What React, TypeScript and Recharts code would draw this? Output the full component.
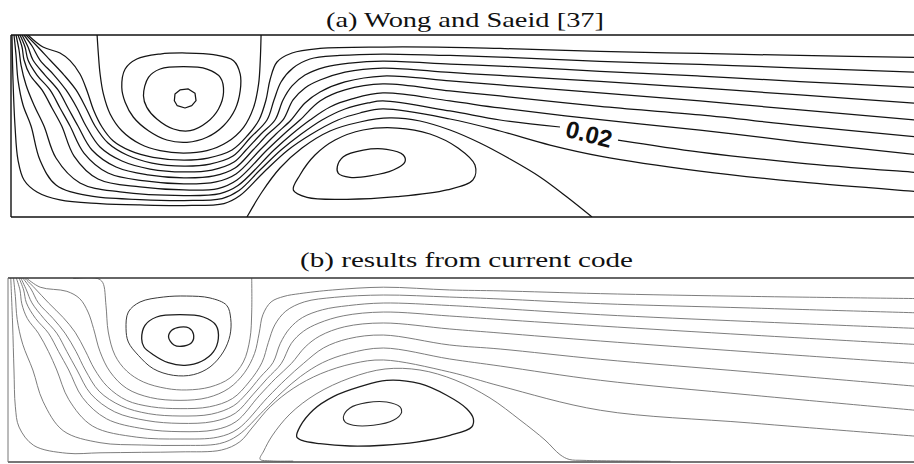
import React from 'react';
import { LineChart, Line, XAxis, YAxis, ReferenceDot } from 'recharts';

// Streamfunction contours in a 10 x 2 channel, x along the channel, y across it.
// Each array is one contour line given as [x, y] pairs.

// ---------- (a) Wong and Saeid [37] ----------
const A_SEPARATRIX = [[0.945,2.0],[0.959,1.791],[0.978,1.571],[1.014,1.352],[1.088,1.132],[1.216,0.948],[1.418,0.802],[1.637,0.729],[1.893,0.703],[2.151,0.729],[2.370,0.821],[2.553,0.986],[2.663,1.205],[2.718,1.462],[2.736,1.718],[2.745,2.0]];
const A_UPPER_OUTER = [[1.216,1.425],[1.253,1.626],[1.381,1.736],[1.637,1.791],[1.931,1.802],[2.223,1.784],[2.443,1.718],[2.516,1.571],[2.516,1.388],[2.462,1.187],[2.333,1.003],[2.151,0.876],[1.931,0.821],[1.711,0.846],[1.509,0.948],[1.344,1.096],[1.253,1.260]];
const A_UPPER_MID = [[1.454,1.333],[1.509,1.535],[1.637,1.626],[1.893,1.652],[2.151,1.626],[2.297,1.535],[2.333,1.370],[2.278,1.187],[2.151,1.041],[1.967,0.948],[1.784,0.967],[1.601,1.077],[1.491,1.205]];
const A_UPPER_CORE = [[1.800,1.352],[1.855,1.396],[1.946,1.407],[2.020,1.359],[2.031,1.278],[1.984,1.223],[1.910,1.198],[1.825,1.223],[1.793,1.278]];
const A_LOWER_OUTER = [[3.099,0.297],[3.172,0.462],[3.337,0.681],[3.557,0.846],[3.864,0.956],[4.237,0.978],[4.599,0.912],[4.907,0.758],[5.093,0.571],[5.071,0.407],[4.786,0.297],[4.237,0.223],[3.688,0.195],[3.249,0.216]];
const A_LOWER_CORE = [[3.582,0.553],[3.648,0.663],[3.867,0.736],[4.124,0.744],[4.306,0.681],[4.325,0.608],[4.197,0.516],[3.941,0.451],[3.721,0.436],[3.593,0.480]];
const A_ARCH = [[2.590,0],[2.755,0.275],[2.953,0.538],[3.194,0.758],[3.502,0.945],[3.831,1.044],[4.160,1.088],[4.490,1.055],[4.819,0.956],[5.148,0.813],[5.478,0.637],[5.807,0.440],[6.103,0.220],[6.378,0]];
const A_FAN_1 = [[0.187,2.0],[0.351,1.868],[0.538,1.802],[0.648,1.718],[0.757,1.571],[0.834,1.388],[0.906,1.176],[0.999,0.989],[1.120,0.838],[1.306,0.729],[1.559,0.656],[1.899,0.626],[2.162,0.648],[2.426,0.736],[2.601,0.901],[2.722,1.066],[2.799,1.286],[2.843,1.505],[2.920,1.703],[3.085,1.802],[3.392,1.852],[4.083,1.868],[4.819,1.865],[5.368,1.852],[6.465,1.821],[7.563,1.797],[8.661,1.775],[10,1.753]];
const A_FAN_2 = [[0.165,2.0],[0.274,1.890],[0.428,1.725],[0.582,1.560],[0.714,1.396],[0.823,1.198],[0.922,1.0],[1.065,0.813],[1.273,0.681],[1.548,0.593],[1.899,0.560],[2.184,0.582],[2.437,0.670],[2.624,0.868],[2.810,1.066],[2.887,1.286],[2.964,1.484],[3.096,1.637],[3.282,1.736],[3.611,1.775],[4.083,1.791],[4.819,1.775],[5.368,1.758],[6.465,1.711],[7.563,1.676],[8.661,1.637],[10,1.590]];
const A_FAN_3 = [[0.143,2.0],[0.231,1.879],[0.318,1.725],[0.472,1.560],[0.604,1.396],[0.724,1.198],[0.823,1.0],[0.977,0.769],[1.218,0.615],[1.526,0.527],[1.899,0.495],[2.206,0.516],[2.448,0.604],[2.580,0.736],[2.744,0.912],[2.898,1.066],[2.986,1.286],[3.085,1.440],[3.227,1.560],[3.447,1.648],[3.721,1.692],[4.083,1.714],[4.819,1.681],[5.368,1.659],[6.465,1.601],[7.563,1.549],[8.661,1.489],[10,1.420]];
const A_FAN_4 = [[0.121,2.0],[0.187,1.868],[0.241,1.725],[0.373,1.560],[0.516,1.396],[0.626,1.198],[0.735,1.0],[0.889,0.736],[1.153,0.549],[1.504,0.462],[1.899,0.429],[2.228,0.451],[2.459,0.538],[2.656,0.736],[2.821,0.912],[2.986,1.066],[3.096,1.286],[3.227,1.418],[3.392,1.505],[3.666,1.593],[4.083,1.637],[4.819,1.588],[5.368,1.555],[6.465,1.491],[7.563,1.418],[8.661,1.341],[10,1.245]];
const A_FAN_5 = [[0.099,2.0],[0.154,1.868],[0.187,1.725],[0.285,1.560],[0.428,1.396],[0.538,1.198],[0.648,1.0],[0.801,0.703],[1.065,0.484],[1.471,0.396],[1.899,0.363],[2.250,0.385],[2.470,0.473],[2.733,0.736],[2.909,0.912],[3.074,1.066],[3.227,1.253],[3.392,1.374],[3.666,1.484],[4.083,1.549],[4.819,1.495],[5.368,1.451],[6.465,1.363],[7.563,1.275],[8.661,1.176],[10,1.060]];
const A_FAN_6 = [[0.077,2.0],[0.121,1.868],[0.143,1.725],[0.209,1.560],[0.340,1.396],[0.450,1.198],[0.557,1.0],[0.692,0.670],[0.955,0.418],[1.416,0.330],[1.899,0.297],[2.272,0.313],[2.481,0.407],[2.810,0.736],[2.997,0.912],[3.172,1.066],[3.392,1.275],[3.666,1.396],[4.083,1.462],[4.819,1.385],[5.368,1.330],[6.465,1.216],[7.563,1.121],[8.661,1.005],[10,0.875]];
const A_FAN_7 = [[0.055,2.0],[0.088,1.835],[0.110,1.670],[0.165,1.451],[0.252,1.231],[0.362,1.0],[0.494,0.648],[0.757,0.374],[1.196,0.275],[1.899,0.236],[2.294,0.258],[2.492,0.346],[2.887,0.736],[3.085,0.912],[3.282,1.066],[3.502,1.209],[3.743,1.297],[4.083,1.363],[4.819,1.275],[5.368,1.198],[6.465,1.069],[7.563,0.956],[8.661,0.824],[10,0.680]];
// contour 0.02 is broken where its label sits
const A_FAN_8_LEFT = [[0.033,2.0],[0.055,1.780],[0.077,1.505],[0.132,1.231],[0.220,1.0],[0.318,0.626],[0.494,0.352],[0.867,0.231],[1.416,0.192],[1.899,0.181],[2.316,0.203],[2.503,0.291],[2.733,0.516],[2.964,0.736],[3.172,0.901],[3.414,1.066],[3.666,1.187],[3.919,1.253],[4.083,1.275],[4.819,1.165],[5.368,1.066],[6.026,0.989]];
const A_FAN_8_RIGHT = [[6.663,0.846],[7.563,0.714],[8.661,0.593],[9.912,0.491],[10,0.484]];
const A_FAN_9 = [[0.011,2.0],[0.022,1.505],[0.044,1.0],[0.077,0.626],[0.143,0.407],[0.285,0.275],[0.538,0.187],[0.977,0.148],[1.416,0.132],[1.899,0.126],[2.338,0.148],[2.514,0.236],[2.777,0.495],[3.041,0.736],[3.282,0.901],[3.589,1.066],[3.831,1.143],[4.083,1.187],[4.819,1.077],[5.368,0.945],[5.917,0.791],[6.465,0.670],[7.563,0.505],[8.661,0.385],[9.912,0.282],[10,0.275]];
const A_LABEL_VALUE = '0.02';
const A_LABEL_AT = [6.345, 0.912];

// ---------- (b) results from current code ----------
const B_SEPARATRIX = [[0.71,1.995],[0.97,1.995],[1.03,1.95],[1.065,1.703],[1.090,1.413],[1.163,1.160],[1.290,0.989],[1.471,0.870],[1.725,0.799],[1.942,0.783],[2.196,0.815],[2.413,0.913],[2.558,1.087],[2.630,1.340],[2.649,1.630],[2.649,2.0]];
const B_UPPER_OUTER = [[1.283,1.449],[1.308,1.630],[1.435,1.739],[1.688,1.793],[1.942,1.804],[2.196,1.783],[2.377,1.703],[2.421,1.558],[2.413,1.377],[2.340,1.196],[2.196,1.033],[2.014,0.949],[1.797,0.942],[1.579,1.014],[1.416,1.160],[1.308,1.304]];
const B_UPPER_MID = [[1.453,1.340],[1.489,1.486],[1.616,1.576],[1.870,1.601],[2.123,1.576],[2.261,1.486],[2.286,1.340],[2.232,1.196],[2.105,1.095],[1.924,1.051],[1.742,1.079],[1.579,1.166],[1.478,1.250]];
const B_UPPER_CORE = [[1.745,1.359],[1.783,1.435],[1.870,1.467],[1.967,1.457],[2.016,1.391],[2.000,1.304],[1.913,1.261],[1.804,1.272]];
const B_LOWER_OUTER = [[3.138,0.275],[3.174,0.384],[3.318,0.565],[3.536,0.710],[3.826,0.818],[4.116,0.888],[4.478,0.851],[4.768,0.725],[4.986,0.579],[5.058,0.471],[5.040,0.380],[4.804,0.290],[4.442,0.217],[4.079,0.182],[3.717,0.174],[3.391,0.199],[3.196,0.234]];
const B_LOWER_CORE = [[3.645,0.489],[3.717,0.587],[3.899,0.645],[4.116,0.652],[4.261,0.598],[4.279,0.543],[4.188,0.453],[3.971,0.399],[3.753,0.399],[3.663,0.435]];
const B_ARCH = [[3.10,0.010],[2.86,0.012],[2.74,0.030],[2.78,0.120],[2.870,0.283],[3.065,0.522],[3.348,0.739],[3.717,0.913],[4.098,1.011],[4.478,1.000],[4.859,0.891],[5.239,0.696],[5.565,0.457],[5.837,0.239],[6.000,0.080],[6.100,0.028],[6.250,0.018],[6.600,0.012],[7.200,0.008]];
const B_FAN_1 = [[0.20,2.0],[0.35,1.90],[0.64,1.855],[0.78,1.775],[0.87,1.63],[0.93,1.45],[1.0,1.20],[1.11,0.98],[1.29,0.80],[1.55,0.70],[1.87,0.67],[2.17,0.70],[2.40,0.80],[2.57,0.97],[2.68,1.18],[2.73,1.40],[2.77,1.60],[2.86,1.74],[3.0,1.80],[3.17,1.83],[3.53,1.87],[4.08,1.90],[4.80,1.87],[5.35,1.86],[6.44,1.83],[8.07,1.80],[10,1.775]];
const B_FAN_2 = [[0.18,2.0],[0.29,1.89],[0.44,1.73],[0.60,1.57],[0.73,1.41],[0.84,1.21],[0.94,1.01],[1.08,0.82],[1.29,0.67],[1.56,0.60],[1.87,0.58],[2.19,0.60],[2.44,0.69],[2.62,0.87],[2.76,1.08],[2.83,1.30],[2.90,1.49],[3.02,1.64],[3.22,1.74],[3.55,1.79],[4.08,1.815],[4.80,1.793],[5.35,1.772],[6.44,1.721],[8.07,1.674],[10,1.618]];
const B_FAN_3 = [[0.16,2.0],[0.25,1.88],[0.33,1.73],[0.49,1.56],[0.62,1.40],[0.74,1.20],[0.84,1.0],[0.99,0.77],[1.23,0.61],[1.53,0.525],[1.87,0.50],[2.21,0.52],[2.45,0.61],[2.59,0.74],[2.74,0.92],[2.88,1.08],[2.96,1.29],[3.06,1.45],[3.20,1.57],[3.42,1.655],[3.70,1.70],[4.08,1.728],[4.80,1.701],[5.35,1.668],[6.44,1.601],[8.07,1.527],[10,1.447]];
const B_FAN_4 = [[0.14,2.0],[0.20,1.87],[0.26,1.73],[0.39,1.56],[0.53,1.40],[0.64,1.20],[0.75,1.0],[0.90,0.74],[1.16,0.545],[1.51,0.45],[1.87,0.42],[2.23,0.44],[2.47,0.53],[2.66,0.73],[2.82,0.91],[2.97,1.07],[3.08,1.29],[3.21,1.42],[3.38,1.51],[3.65,1.59],[4.08,1.630],[4.80,1.587],[5.35,1.549],[6.44,1.478],[8.07,1.380],[10,1.270]];
const B_FAN_5 = [[0.12,2.0],[0.17,1.87],[0.20,1.73],[0.30,1.56],[0.44,1.40],[0.55,1.20],[0.66,1.0],[0.81,0.70],[1.07,0.47],[1.48,0.36],[1.87,0.33],[2.25,0.35],[2.48,0.44],[2.73,0.72],[2.91,0.91],[3.08,1.07],[3.23,1.25],[3.39,1.37],[3.66,1.47],[4.08,1.511],[4.80,1.446],[5.35,1.402],[6.44,1.315],[8.07,1.196],[10,1.062]];
const B_FAN_6 = [[0.09,2.0],[0.13,1.87],[0.15,1.72],[0.21,1.56],[0.33,1.40],[0.44,1.20],[0.53,1.0],[0.66,0.68],[0.92,0.39],[1.40,0.27],[1.87,0.25],[2.28,0.27],[2.50,0.36],[2.82,0.70],[3.02,0.90],[3.21,1.07],[3.43,1.24],[3.70,1.34],[4.08,1.380],[4.80,1.272],[5.35,1.228],[6.44,1.116],[8.07,0.978],[10,0.812]];
const B_FAN_7 = [[0.06,2.0],[0.08,1.80],[0.10,1.55],[0.16,1.28],[0.27,1.0],[0.38,0.66],[0.60,0.34],[1.0,0.21],[1.45,0.185],[1.87,0.18],[2.30,0.20],[2.50,0.29],[2.78,0.56],[2.98,0.76],[3.18,0.93],[3.42,1.08],[3.70,1.18],[4.08,1.239],[4.80,1.120],[5.35,1.043],[6.44,0.888],[8.07,0.728],[10,0.55]];
const B_FAN_8 = [[0.03,2.0],[0.05,1.5],[0.065,1.0],[0.08,0.6],[0.12,0.38],[0.28,0.18],[0.64,0.095],[1.0,0.10],[1.45,0.105],[1.87,0.11],[2.32,0.13],[2.52,0.22],[2.66,0.38],[2.85,0.60],[3.10,0.80],[3.40,0.96],[3.75,1.07],[4.08,1.109],[4.80,0.978],[5.35,0.826],[6.44,0.562],[8.07,0.424],[10,0.27]];

const X_TICKS = [0, 1, 2, 3, 4, 5, 6, 7, 8, 9, 10];
const Y_TICKS = [0, 1, 2];

// ---------- centripetal Catmull-Rom curve, passed to <Line type> ----------
function catmullRom(closed: boolean) {
  return (context: any) => {
    let pts: number[][] = [];
    return {
      areaStart() {},
      areaEnd() {},
      lineStart() { pts = []; },
      point(x: number, y: number) { pts.push([+x, +y]); },
      lineEnd() {
        const n = pts.length;
        if (!n) return;
        const at = (i: number) => (closed ? pts[((i % n) + n) % n] : pts[Math.max(0, Math.min(n - 1, i))]);
        context.moveTo(pts[0][0], pts[0][1]);
        const segs = closed ? n : n - 1;
        for (let i = 0; i < segs; i++) {
          const p0 = at(i - 1), p1 = at(i), p2 = at(i + 1), p3 = at(i + 2);
          const l01 = Math.sqrt(Math.hypot(p1[0] - p0[0], p1[1] - p0[1]));
          const l12 = Math.sqrt(Math.hypot(p2[0] - p1[0], p2[1] - p1[1]));
          const l23 = Math.sqrt(Math.hypot(p3[0] - p2[0], p3[1] - p2[1]));
          let c1x = p1[0], c1y = p1[1], c2x = p2[0], c2y = p2[1];
          if (l01 > 1e-6) {
            const a = 2 * l01 * l01 + 3 * l01 * l12 + l12 * l12;
            const m = 3 * l01 * (l01 + l12);
            c1x = (p1[0] * a - p0[0] * l12 * l12 + p2[0] * l01 * l01) / m;
            c1y = (p1[1] * a - p0[1] * l12 * l12 + p2[1] * l01 * l01) / m;
          }
          if (l23 > 1e-6) {
            const b = 2 * l23 * l23 + 3 * l23 * l12 + l12 * l12;
            const m = 3 * l23 * (l23 + l12);
            c2x = (p2[0] * b + p1[0] * l23 * l23 - p3[0] * l12 * l12) / m;
            c2y = (p2[1] * b + p1[1] * l23 * l23 - p3[1] * l12 * l12) / m;
          }
          context.bezierCurveTo(c1x, c1y, c2x, c2y, p2[0], p2[1]);
        }
        if (closed) context.closePath();
      },
    };
  };
}
const OPEN_CURVE = catmullRom(false);
const CLOSED_CURVE = catmullRom(true);

const toPoints = (arr: number[][]) => arr.map(([x, y]) => ({ x, y }));

type Contour = { id: string; pts: number[][]; closed?: boolean; polygon?: boolean; color: string; width: number };

const A_INK = '#141414';
const A_W = 1.25;
const A_CONTOURS: Contour[] = [
  { id: 'a-sep', pts: A_SEPARATRIX, color: A_INK, width: A_W },
  { id: 'a-uo', pts: A_UPPER_OUTER, closed: true, color: A_INK, width: A_W },
  { id: 'a-um', pts: A_UPPER_MID, closed: true, color: A_INK, width: A_W },
  { id: 'a-uc', pts: A_UPPER_CORE, polygon: true, color: A_INK, width: A_W },
  { id: 'a-lo', pts: A_LOWER_OUTER, closed: true, color: A_INK, width: A_W },
  { id: 'a-lc', pts: A_LOWER_CORE, closed: true, color: A_INK, width: A_W },
  { id: 'a-arch', pts: A_ARCH, color: A_INK, width: A_W },
  { id: 'a-f1', pts: A_FAN_1, color: A_INK, width: A_W },
  { id: 'a-f2', pts: A_FAN_2, color: A_INK, width: A_W },
  { id: 'a-f3', pts: A_FAN_3, color: A_INK, width: A_W },
  { id: 'a-f4', pts: A_FAN_4, color: A_INK, width: A_W },
  { id: 'a-f5', pts: A_FAN_5, color: A_INK, width: A_W },
  { id: 'a-f6', pts: A_FAN_6, color: A_INK, width: A_W },
  { id: 'a-f7', pts: A_FAN_7, color: A_INK, width: A_W },
  { id: 'a-f8l', pts: A_FAN_8_LEFT, color: A_INK, width: A_W },
  { id: 'a-f8r', pts: A_FAN_8_RIGHT, color: A_INK, width: A_W },
  { id: 'a-f9', pts: A_FAN_9, color: A_INK, width: A_W },
];

const B_THIN = '#6e6e6e';
const B_DARK = '#1c1c1c';
const B_CONTOURS: Contour[] = [
  { id: 'b-sep', pts: B_SEPARATRIX, color: B_THIN, width: 0.9 },
  { id: 'b-uo', pts: B_UPPER_OUTER, closed: true, color: '#3a3a3a', width: 1.0 },
  { id: 'b-um', pts: B_UPPER_MID, closed: true, color: B_DARK, width: 1.3 },
  { id: 'b-uc', pts: B_UPPER_CORE, closed: true, color: B_DARK, width: 1.3 },
  { id: 'b-lo', pts: B_LOWER_OUTER, closed: true, color: B_DARK, width: 1.3 },
  { id: 'b-lc', pts: B_LOWER_CORE, closed: true, color: '#2a2a2a', width: 1.1 },
  { id: 'b-arch', pts: B_ARCH, color: B_THIN, width: 0.9 },
  { id: 'b-f1', pts: B_FAN_1, color: B_THIN, width: 0.9 },
  { id: 'b-f2', pts: B_FAN_2, color: B_THIN, width: 0.9 },
  { id: 'b-f3', pts: B_FAN_3, color: B_THIN, width: 0.9 },
  { id: 'b-f4', pts: B_FAN_4, color: B_THIN, width: 0.9 },
  { id: 'b-f5', pts: B_FAN_5, color: B_THIN, width: 0.9 },
  { id: 'b-f6', pts: B_FAN_6, color: B_THIN, width: 0.9 },
  { id: 'b-f7', pts: B_FAN_7, color: B_THIN, width: 0.9 },
  { id: 'b-f8', pts: B_FAN_8, color: B_THIN, width: 0.9 },
];

function renderContours(list: Contour[]) {
  return list.map((c) => (
    <Line
      key={c.id}
      xAxisId="bottom"
      data={toPoints(c.pts)}
      dataKey="y"
      type={c.polygon ? 'linearClosed' : c.closed ? CLOSED_CURVE : OPEN_CURVE}
      stroke={c.color}
      strokeWidth={c.width}
      strokeLinejoin="round"
      dot={false}
      activeDot={false}
      legendType="none"
      isAnimationActive={false}
    />
  ));
}

const ContourLabel = (props: any) => {
  const vb = props.viewBox || {};
  const cx = (vb.x || 0) + (vb.width || 0) / 2;
  const cy = (vb.y || 0) + (vb.height || 0) / 2;
  return (
    <text
      x={cx}
      y={cy}
      textAnchor="middle"
      dominantBaseline="central"
      transform={`rotate(14 ${cx} ${cy})`}
      fontFamily="'Liberation Sans', Arial, sans-serif"
      fontWeight="bold"
      fontSize={24}
      fill="#111"
    >
      {A_LABEL_VALUE}
    </text>
  );
};

const SERIF = "'Liberation Serif', 'DejaVu Serif', serif";

export default function App() {
  return (
    <div
      style={{
        position: 'fixed',
        left: 0,
        top: 0,
        width: 914,
        height: 464,
        overflow: 'hidden',
        background: '#fff',
      }}
    >
      <svg width={914} height={464} style={{ position: 'absolute', left: 0, top: 0 }}>
        <text x={465} y={27} textAnchor="middle" fontFamily={SERIF} fontSize={21} fill="#111" textLength={278} lengthAdjust="spacingAndGlyphs">
          (a) Wong and Saeid [37]
        </text>
        <text x={466.5} y={267} textAnchor="middle" fontFamily={SERIF} fontSize={21} fill="#111" textLength={333} lengthAdjust="spacingAndGlyphs">
          (b) results from current code
        </text>
      </svg>

      {/* panel (a) */}
      <div style={{ position: 'absolute', left: 0, top: 28 }}>
        <LineChart width={922} height={196} margin={{ top: 0, right: 0, bottom: 0, left: 0 }}>
          <XAxis xAxisId="bottom" type="number" dataKey="x" domain={[0, 10]} ticks={X_TICKS} allowDataOverflow
            height={7} tick={false} tickSize={3} axisLine={{ stroke: '#111', strokeWidth: 1.4 }} tickLine={{ stroke: '#111', strokeWidth: 1 }} />
          <XAxis xAxisId="top" orientation="top" type="number" dataKey="x" domain={[0, 10]} ticks={X_TICKS} allowDataOverflow
            height={7} tick={false} tickSize={3} axisLine={{ stroke: '#111', strokeWidth: 1.4 }} tickLine={{ stroke: '#111', strokeWidth: 1 }} />
          <YAxis type="number" domain={[0, 2]} ticks={Y_TICKS} allowDataOverflow width={11}
            tick={false} tickSize={3} axisLine={{ stroke: '#111', strokeWidth: 1.4 }} tickLine={{ stroke: '#111', strokeWidth: 1 }} />
          {renderContours(A_CONTOURS)}
          <ReferenceDot xAxisId="bottom" x={A_LABEL_AT[0]} y={A_LABEL_AT[1]} r={1} fill="none" stroke="none" label={<ContourLabel />} />
        </LineChart>
      </div>

      {/* panel (b) */}
      <div style={{ position: 'absolute', left: 0, top: 271 }}>
        <LineChart width={928} height={193} margin={{ top: 0, right: 0, bottom: 0, left: 0 }}>
          <XAxis xAxisId="bottom" type="number" dataKey="x" domain={[0, 10]} allowDataOverflow
            height={2} tick={false} tickLine={false} axisLine={{ stroke: '#4a4a4a', strokeWidth: 1.6 }} />
          <XAxis xAxisId="top" orientation="top" type="number" dataKey="x" domain={[0, 10]} allowDataOverflow
            height={7} tick={false} tickLine={false} axisLine={{ stroke: '#333', strokeWidth: 1.6 }} />
          <YAxis type="number" domain={[0, 2]} allowDataOverflow width={8}
            tick={false} tickLine={false} axisLine={{ stroke: '#777', strokeWidth: 1 }} />
          {renderContours(B_CONTOURS)}
        </LineChart>
      </div>
    </div>
  );
}
